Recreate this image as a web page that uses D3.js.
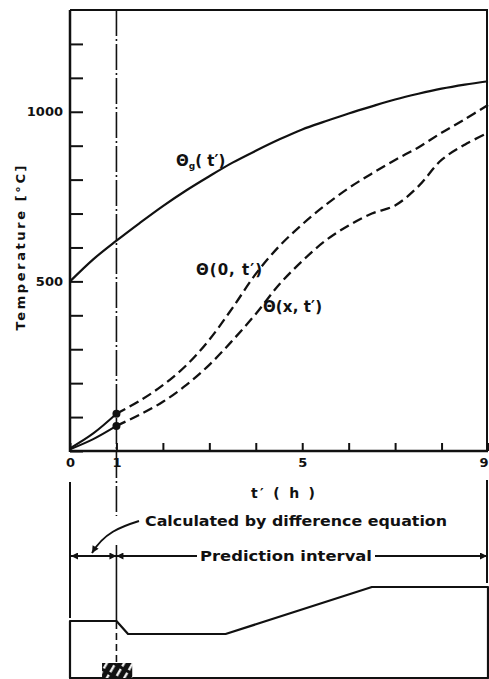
<!DOCTYPE html>
<html>
<head>
<meta charset="utf-8">
<script src="https://cdn.jsdelivr.net/npm/d3@7"></script>
<style>
  body { margin:0; background:#fff; }
  svg text { font-family:"DejaVu Sans", "Liberation Sans", sans-serif; font-weight:bold; fill:#111; }
</style>
</head>
<body>
<svg width="489" height="679"></svg>
<script>
// time axis [h]
const hours = [0,0.5,1,1.5,2,2.5,3,3.5,4,4.5,5,5.5,6,6.5,7,7.5,8,8.5,9];
// gas temperature theta_g(t')
const gasTemp = [500,565,620,672,722,768,810,850,885,918,948,972,995,1016,1036,1053,1068,1080,1090];
// surface temperature theta(0,t')
const surfTemp = [8,52,110,148,194,252,328,422,522,603,668,725,775,818,858,895,938,978,1020];
// inner temperature theta(x,t')
const innerTemp = [5,35,74,107,145,194,254,326,404,490,560,620,665,700,724,780,858,903,938];

const xTicks = [0,1,2,3,4,5,6,7,8,9];
const xLabels = [0,1,5,9];
const yTicks = [0,100,200,300,400,500,600,700,800,900,1000,1100,1200];
const yLabels = [500,1000];

// lower profile diagram (hours, relative level)
const profHours = [0,0,1,1.25,3.35,6.5,9,9];
const profLevel = [0,57,57,44,44,91,91,0];

const svg = d3.select("svg");
const x = d3.scaleLinear().domain([0,9]).range([70,488]);
const y = d3.scaleLinear().domain([0,1300]).range([451,10]);
const yp = d3.scaleLinear().domain([0,100]).range([678,578]);

// frame top & right
svg.append("path").attr("d",`M${x(0)},${y(1300)}H${x(9)-1}V${y(0)}`)
  .attr("fill","none").attr("stroke","#111").attr("stroke-width",2);

const gx = svg.append("g").attr("transform",`translate(0,${y(0)})`)
  .call(d3.axisBottom(x).tickValues(xTicks).tickSizeInner(-8).tickSizeOuter(0).tickPadding(7)
    .tickFormat(d=>xLabels.includes(d)?d:""));
const gy = svg.append("g").attr("transform",`translate(${x(0)},0)`)
  .call(d3.axisLeft(y).tickValues(yTicks).tickSizeInner(-13).tickSizeOuter(0).tickPadding(7)
    .tickFormat(d=>yLabels.includes(d)?d:""));
[gx,gy].forEach(g=>{
  g.select(".domain").attr("stroke","#111").attr("stroke-width",2.5);
  g.selectAll(".tick line").attr("stroke","#111").attr("stroke-width",2);
  g.selectAll(".tick text").attr("font-size",13).attr("font-family","DejaVu Sans").attr("font-weight","bold").attr("fill","#111");
});
gy.select(".domain").attr("d",`M0,${y(1300)}V${y(0)+1}`);
gx.select(".domain").attr("d",`M${x(0)},0H${x(9)}`);
gx.selectAll(".tick text").filter(d=>d===9).attr("text-anchor","end").attr("dx",0);

// axis titles
svg.append("text").attr("transform","translate(25,248) rotate(-90)")
  .attr("text-anchor","middle").attr("font-size",13).attr("textLength",165).attr("lengthAdjust","spacing")
  .text("Temperature [°C]");
svg.append("text").attr("x",251).attr("y",498).attr("font-size",14)
  .attr("textLength",64).attr("lengthAdjust","spacing").text("t′ ( h )");

// vertical dash-dot line at t'=1
svg.append("line").attr("x1",x(1)).attr("x2",x(1)).attr("y1",y(1300)).attr("y2",516)
  .attr("stroke","#111").attr("stroke-width",1.6).attr("stroke-dasharray","26,3,2,3");

const line = d3.line().x(d=>x(d[0])).y(d=>y(d[1])).curve(d3.curveCatmullRom);
const pts = arr => hours.map((h,i)=>[h,arr[i]]);

svg.append("path").attr("d",line(pts(gasTemp))).attr("fill","none")
  .attr("stroke","#111").attr("stroke-width",2.2);

[surfTemp,innerTemp].forEach(arr=>{
  const p = pts(arr);
  svg.append("path").attr("d",line(p.filter(d=>d[0]<=1))).attr("fill","none")
    .attr("stroke","#111").attr("stroke-width",2);
  svg.append("path").attr("d",line(p.filter(d=>d[0]>=1))).attr("fill","none")
    .attr("stroke","#111").attr("stroke-width",2.3).attr("stroke-dasharray","10,5");
  svg.append("circle").attr("cx",x(1)).attr("cy",y(arr[2])).attr("r",4).attr("fill","#111");
});

// curve labels
const lg = svg.append("text").attr("x",176).attr("y",166).attr("font-size",15);
lg.append("tspan").text("Θ");
lg.append("tspan").attr("font-size",9).attr("dy",3).text("g");
lg.append("tspan").attr("dy",-3).text("( t′)");
svg.append("text").attr("x",196).attr("y",275).attr("font-size",15)
  .attr("textLength",66).attr("lengthAdjust","spacing").text("Θ(0, t′)");
svg.append("text").attr("x",263).attr("y",312).attr("font-size",15)
  .attr("textLength",59).attr("lengthAdjust","spacing").text("Θ(x, t′)");

// lower diagram
const defs = svg.append("defs");
defs.append("marker").attr("id","ah").attr("viewBox","0 0 10 10").attr("refX",10).attr("refY",5)
  .attr("markerWidth",10).attr("markerHeight",7).attr("markerUnits","userSpaceOnUse").attr("orient","auto-start-reverse")
  .append("path").attr("d","M0,0L10,5L0,10Z").attr("fill","#111");
const pat = defs.append("pattern").attr("id","hatch").attr("width",7.5).attr("height",11)
  .attr("patternUnits","userSpaceOnUse").attr("patternTransform","rotate(30)");
pat.append("rect").attr("width",7.5).attr("height",11).attr("fill","#111");
pat.append("rect").attr("x",3).attr("y",2).attr("width",2.2).attr("height",8).attr("fill","#fff");

svg.append("line").attr("x1",x(0)).attr("x2",x(0)).attr("y1",482).attr("y2",618)
  .attr("stroke","#111").attr("stroke-width",2);
svg.append("line").attr("x1",x(9)-1).attr("x2",x(9)-1).attr("y1",480).attr("y2",583)
  .attr("stroke","#111").attr("stroke-width",2);
svg.append("line").attr("x1",x(1)).attr("x2",x(1)).attr("y1",545).attr("y2",622)
  .attr("stroke","#111").attr("stroke-width",1.6);
svg.append("line").attr("x1",x(1)).attr("x2",x(1)).attr("y1",622).attr("y2",662)
  .attr("stroke","#111").attr("stroke-width",1.6).attr("stroke-dasharray","7,4");

// interval arrows
svg.append("line").attr("x1",x(0)+1).attr("x2",x(1)).attr("y1",556).attr("y2",556)
  .attr("stroke","#111").attr("stroke-width",1.8)
  .attr("marker-start","url(#ah)").attr("marker-end","url(#ah)");
svg.append("line").attr("x1",x(1)).attr("x2",197).attr("y1",556).attr("y2",556)
  .attr("stroke","#111").attr("stroke-width",1.8).attr("marker-start","url(#ah)");
svg.append("line").attr("x1",375).attr("x2",x(9)-1).attr("y1",556).attr("y2",556)
  .attr("stroke","#111").attr("stroke-width",1.8).attr("marker-end","url(#ah)");
svg.append("text").attr("x",200).attr("y",561).attr("font-size",14)
  .attr("textLength",172).attr("lengthAdjust","spacingAndGlyphs").text("Prediction interval");
svg.append("text").attr("x",145).attr("y",526).attr("font-size",14)
  .attr("textLength",302).attr("lengthAdjust","spacingAndGlyphs").text("Calculated by difference equation");
svg.append("path").attr("d","M139,521C120,527 104,533 92,553").attr("fill","none")
  .attr("stroke","#111").attr("stroke-width",2).attr("marker-end","url(#ah)");

// profile
const prof = d3.line().x(d=>x(d[0])).y(d=>yp(d[1]));
svg.append("path").attr("d",prof(profHours.map((h,i)=>[h,profLevel[i]]))+"Z")
  .attr("fill","none").attr("stroke","#111").attr("stroke-width",2.2).attr("stroke-linejoin","round");

// hatched block
svg.append("rect").attr("x",x(0.69)).attr("y",663).attr("width",x(1.34)-x(0.69)).attr("height",15)
  .attr("fill","url(#hatch)");
</script>
</body>
</html>
